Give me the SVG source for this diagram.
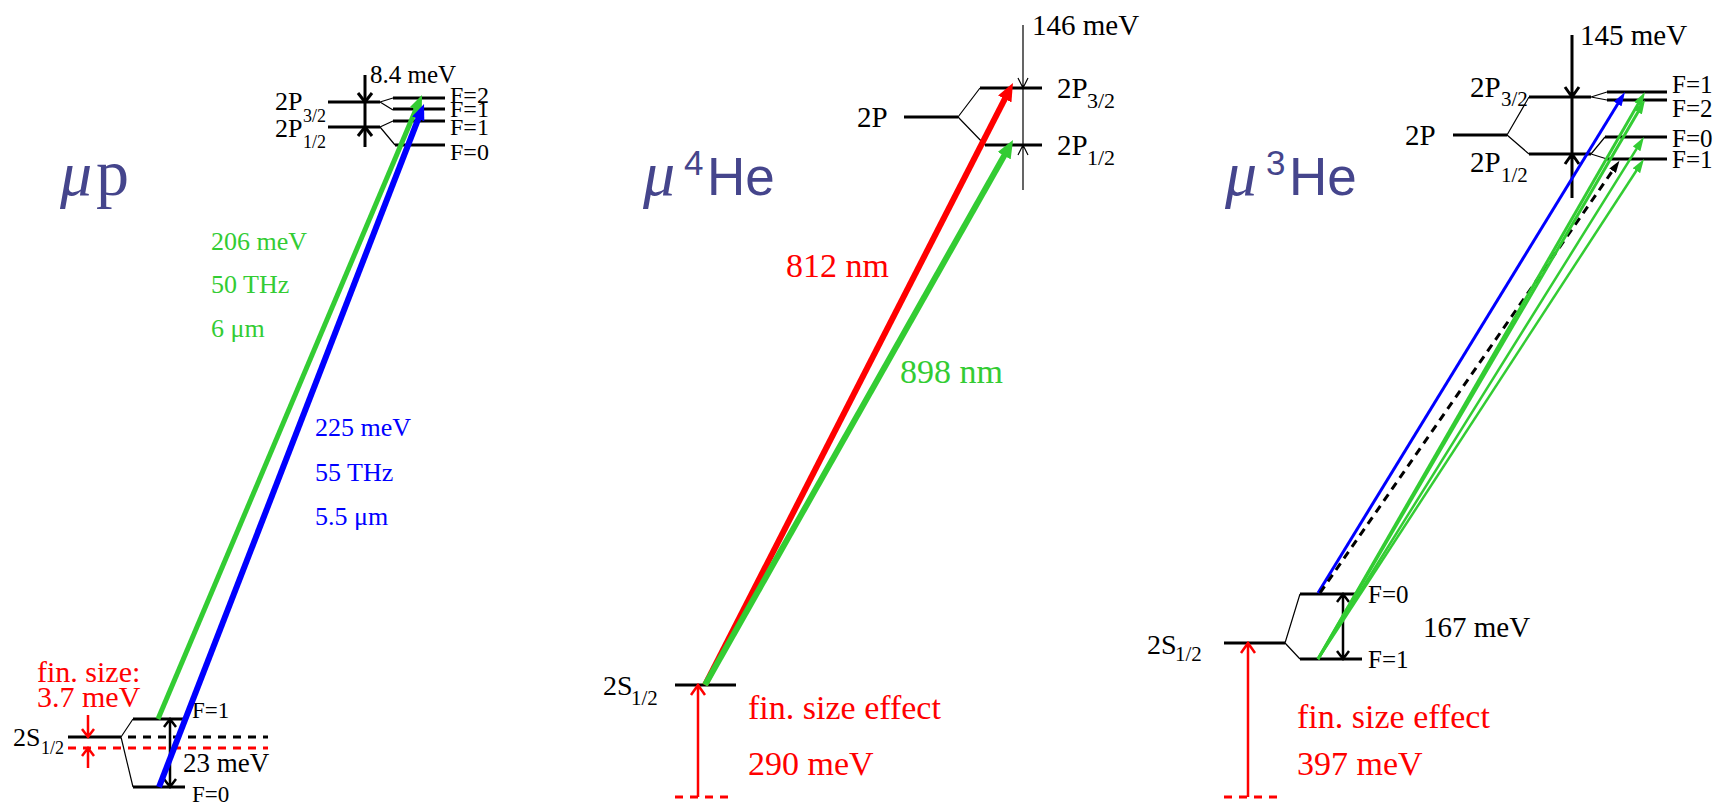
<svg xmlns="http://www.w3.org/2000/svg" width="1716" height="804" viewBox="0 0 1716 804">
<style>
.s{font-family:"Liberation Serif","Times New Roman",serif}
.a{font-family:"Liberation Sans",Arial,sans-serif}
.k{fill:#000}
.r{fill:#ff0000}
.g{fill:#33cc33}
.b{fill:#0000ff}
.m{fill:#45458c}
.lv{stroke:#000;stroke-width:3;fill:none}
.tn{stroke:#000;stroke-width:1.2;fill:none}
.ms{stroke:#000;stroke-width:2.5;fill:none}
.rd{stroke:#ff0000;stroke-width:2.5;fill:none}
.dk{stroke:#000;stroke-width:3;stroke-dasharray:8 7;fill:none}
.dr{stroke:#ff0000;stroke-width:3;stroke-dasharray:8 7;fill:none}
</style>
<defs>
<marker id="hG" markerUnits="userSpaceOnUse" markerWidth="16" markerHeight="13" refX="6" refY="6.5" orient="auto"><path d="M0,0 L16,6.5 L0,13 z" fill="#33cc33"/></marker>
<marker id="hB" markerUnits="userSpaceOnUse" markerWidth="16" markerHeight="13" refX="6" refY="6.5" orient="auto"><path d="M0,0 L16,6.5 L0,13 z" fill="#0000ff"/></marker>
<marker id="hR2" markerUnits="userSpaceOnUse" markerWidth="18" markerHeight="15" refX="8" refY="7.5" orient="auto"><path d="M0,0 L18,7.5 L0,15 z" fill="#ff0000"/></marker>
<marker id="hG2" markerUnits="userSpaceOnUse" markerWidth="18" markerHeight="15" refX="8" refY="7.5" orient="auto"><path d="M0,0 L18,7.5 L0,15 z" fill="#33cc33"/></marker>
<marker id="tB" markerUnits="userSpaceOnUse" markerWidth="14" markerHeight="9" refX="5" refY="4.5" orient="auto"><path d="M0,0 L14,4.5 L0,9 z" fill="#0000ff"/></marker>
<marker id="tG" markerUnits="userSpaceOnUse" markerWidth="14" markerHeight="9" refX="5" refY="4.5" orient="auto"><path d="M0,0 L14,4.5 L0,9 z" fill="#33cc33"/></marker>
<marker id="tK" markerUnits="userSpaceOnUse" markerWidth="12" markerHeight="8" refX="4" refY="4" orient="auto"><path d="M0,0 L12,4 L0,8 z" fill="#000"/></marker>
</defs>
<rect width="1716" height="804" fill="#fff"/>

<!-- ===== muon p ===== -->
<g id="mup-title"><text class="s m" x="60" y="195" font-size="64"><tspan font-style="italic">μ</tspan><tspan x="96" font-size="66">p</tspan></text></g>

<g id="mup-2P">
<path class="lv" d="M328,102 H380 M328,127 H380"/>
<path class="tn" d="M380,102 L393,98 M380,102 L393,110 M380,127 L393,121 M380,127 L395,145"/>
<path class="lv" d="M393,98 H445 M393,109 H445 M393,121 H445 M395,145 H445"/>
<text class="s k" x="275" y="110" font-size="26">2P</text><text class="s k" x="303" y="122" font-size="18">3/2</text>
<text class="s k" x="275" y="137" font-size="26">2P</text><text class="s k" x="303" y="148" font-size="18">1/2</text>
<text class="s k" x="450" y="103" font-size="24">F=2</text>
<text class="s k" x="450" y="117" font-size="24">F=1</text>
<text class="s k" x="450" y="135" font-size="24">F=1</text>
<text class="s k" x="450" y="160" font-size="24">F=0</text>
</g>
<g id="mup-2P-split">
<path class="lv" d="M365,75 V147"/>
<path class="lv" d="M358,93 L365,102 L372,93 M358,136 L365,127 L372,136"/>
<text class="s k" x="370" y="83" font-size="25">8.4 meV</text>
</g>

<g id="mup-2S">
<path class="lv" d="M68,737 H121"/>
<path class="dk" d="M128,737 H268"/>
<path class="dr" d="M68,748 H268"/>
<path class="tn" d="M121,737 L133,719 M121,737 L133,787"/>
<path class="lv" d="M133,719 H183 M133,787 H185"/>
<text class="s k" x="13" y="746" font-size="26">2S</text><text class="s k" x="41" y="754" font-size="18">1/2</text>
<text class="s k" x="192" y="718" font-size="23">F=1</text>
<text class="s k" x="192" y="802" font-size="23">F=0</text>
</g>
<g id="mup-2S-split">
<path class="ms" d="M170,720 V786 M164,727 L170,719 L176,727 M164,779 L170,787 L176,779"/>
<text class="s k" x="183" y="772" font-size="27">23 meV</text>
</g>
<g id="mup-finsize">
<path class="rd" d="M88,715 V736 M82,729 L88,737 L94,729 M88,749 V768 M82,756 L88,748 L94,756"/>
<text class="s r" x="37" y="682" font-size="30">fin. size:</text>
<text class="s r" x="37" y="707" font-size="30">3.7 meV</text>
</g>
<g id="mup-labels">
<text class="s g" x="211" y="250" font-size="26">206 meV</text>
<text class="s g" x="211" y="293" font-size="26">50 THz</text>
<text class="s g" x="211" y="337" font-size="26">6 μm</text>
<text class="s b" x="315" y="436" font-size="26">225 meV</text>
<text class="s b" x="315" y="481" font-size="26">55 THz</text>
<text class="s b" x="315" y="525" font-size="26">5.5 μm</text>
</g>

<!-- ===== muon 4He ===== -->
<g id="mu4he-title"><text class="s m" x="643" y="195" font-size="64" font-style="italic">μ</text><text class="a m" x="684" y="175" font-size="35">4</text><text class="a m" x="707" y="195" font-size="53">He</text></g>
<g id="mu4he-2P">
<path class="lv" d="M904,117 H958"/>
<path class="tn" d="M958,117 L980,88 M958,117 L985,145"/>
<path class="lv" d="M980,88 H1042 M985,145 H1042"/>
<text class="s k" x="857" y="127" font-size="29">2P</text>
<text class="s k" x="1057" y="98" font-size="29">2P</text><text class="s k" x="1087" y="108" font-size="22">3/2</text>
<text class="s k" x="1057" y="155" font-size="29">2P</text><text class="s k" x="1087" y="165" font-size="22">1/2</text>
</g>
<g id="mu4he-fs">
<path class="tn" d="M1023,25 V190 M1018,78 L1023,88 L1028,78 M1018,155 L1023,145 L1028,155"/>
<text class="s k" x="1032" y="35" font-size="29">146 meV</text>
</g>
<g id="mu4he-2S">
<path class="lv" d="M675,685 H736"/>
<text class="s k" x="603" y="695" font-size="28">2S</text><text class="s k" x="631" y="705" font-size="21">1/2</text>
<path class="dr" d="M675,797 H728" stroke-dasharray="7 6"/>
<path class="rd" d="M698,687 V797 M691,695 L698,685 L705,695"/>
<text class="s r" x="748" y="719" font-size="34">fin. size effect</text>
<text class="s r" x="748" y="775" font-size="34">290 meV</text>
</g>
<g id="mu4he-labels">
<text class="s r" x="786" y="277" font-size="34">812 nm</text>
<text class="s g" x="900" y="383" font-size="34">898 nm</text>
</g>

<!-- ===== muon 3He ===== -->
<g id="mu3he-title"><text class="s m" x="1225" y="195" font-size="64" font-style="italic">μ</text><text class="a m" x="1266" y="175" font-size="35">3</text><text class="a m" x="1289" y="195" font-size="53">He</text></g>
<g id="mu3he-2P">
<path class="lv" d="M1453,135 H1507"/>
<path class="tn" d="M1507,135 L1529,97 M1507,135 L1529,154"/>
<path class="lv" d="M1529,97 H1591 M1529,154 H1591"/>
<path class="tn" d="M1591,97 L1607,92 M1591,97 L1607,100 M1591,154 L1605,137 M1591,154 L1607,159"/>
<path class="lv" d="M1607,92 H1667 M1607,100 H1667 M1605,137 H1667 M1607,159 H1667"/>
<text class="s k" x="1405" y="145" font-size="29">2P</text>
<text class="s k" x="1470" y="97" font-size="29">2P</text><text class="s k" x="1501" y="106" font-size="21">3/2</text>
<text class="s k" x="1470" y="172" font-size="29">2P</text><text class="s k" x="1501" y="182" font-size="21">1/2</text>
<text class="s k" x="1672" y="93" font-size="25">F=1</text>
<text class="s k" x="1672" y="117" font-size="25">F=2</text>
<text class="s k" x="1672" y="147" font-size="25">F=0</text>
<text class="s k" x="1672" y="168" font-size="25">F=1</text>
</g>
<g id="mu3he-fs">
<path class="lv" d="M1572,35 V198 M1565,87 L1572,97 L1579,87 M1565,164 L1572,154 L1579,164"/>
<text class="s k" x="1580" y="45" font-size="29">145 meV</text>
</g>
<g id="mu3he-2S">
<path class="lv" d="M1224,643 H1285"/>
<path class="tn" d="M1285,643 L1300,594 M1285,643 L1300,659"/>
<path class="lv" d="M1300,594 H1355 M1300,659 H1362"/>
<text class="s k" x="1147" y="654" font-size="28">2S</text><text class="s k" x="1175" y="661" font-size="21">1/2</text>
<text class="s k" x="1368" y="603" font-size="25">F=0</text>
<text class="s k" x="1368" y="668" font-size="25">F=1</text>
<path class="ms" d="M1343,595 V658 M1337,602 L1343,594 L1349,602 M1337,651 L1343,659 L1349,651" stroke-width="3"/>
<text class="s k" x="1423" y="637" font-size="29">167 meV</text>
</g>
<g id="mu3he-finsize">
<path class="dr" d="M1224,797 H1277" stroke-dasharray="7 6"/>
<path class="rd" d="M1248,645 V797 M1241,653 L1248,643 L1255,653"/>
<text class="s r" x="1297" y="728" font-size="34">fin. size effect</text>
<text class="s r" x="1297" y="775" font-size="34">397 meV</text>
</g>

<!-- ===== connectors ===== -->
<g id="connectors" fill="none">
<path d="M158,719 L418.1,104.2" stroke="#33cc33" stroke-width="5" marker-end="url(#hG)"/>
<path d="M159,787 L420.4,113.3" stroke="#0000ff" stroke-width="6" marker-end="url(#hB)"/>
<path d="M705,685 L1008.4,91.9" stroke="#ff0000" stroke-width="6" marker-end="url(#hR2)"/>
<path d="M705,685 L1008.1,148.7" stroke="#33cc33" stroke-width="6" marker-end="url(#hG2)"/>
<path d="M1318,593 L1620.3,99.7" stroke="#0000ff" stroke-width="3" marker-end="url(#tB)"/>
<path d="M1320,593 L1614.9,167.4" stroke="#000" stroke-width="3" stroke-dasharray="8 6" marker-end="url(#tK)"/>
<path d="M1318,659 L1640.5,99.8" stroke="#33cc33" stroke-width="3" marker-end="url(#tG)"/>
<path d="M1318,659 L1640.5,107.8" stroke="#33cc33" stroke-width="3" marker-end="url(#tG)"/>
<path d="M1318,659 L1639.2,144.6" stroke="#33cc33" stroke-width="2.5" marker-end="url(#tG)"/>
<path d="M1318,659 L1639.1,166.5" stroke="#33cc33" stroke-width="2.5" marker-end="url(#tG)"/>
</g>
</svg>
